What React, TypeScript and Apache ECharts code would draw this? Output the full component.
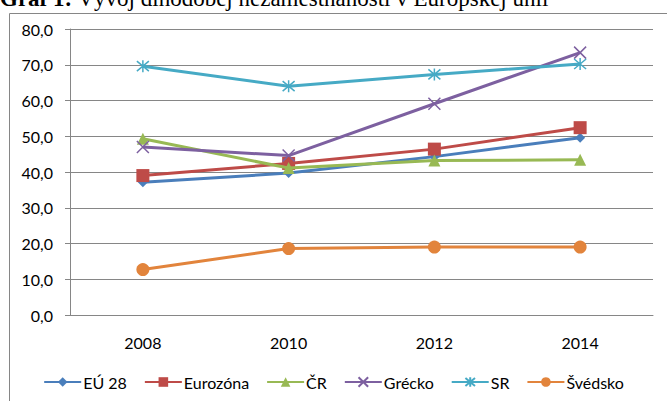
import React, { useEffect, useRef } from "react";
import * as echarts from "echarts";

const categories = ["2008", "2010", "2012", "2014"];
const seriesNames = ["EÚ 28", "Eurozóna", "ČR", "Grécko", "SR", "Švédsko"];
const eu28 = [37.1, 39.7, 44.3, 49.6];
const eurozona = [39.0, 42.4, 46.4, 52.4];
const cr = [49.3, 41.1, 43.2, 43.4];
const grecko = [47.0, 44.6, 59.1, 73.4];
const sr = [69.6, 64.0, 67.3, 70.2];
const svedsko = [12.7, 18.6, 19.0, 19.0];
const yTicks = { min: 0, max: 80, interval: 10 };

const colors = ["#4A7EBB", "#BE4B48", "#98B954", "#7D60A0", "#46AAC5", "#E2843C"];

const FONT = "Lato, 'Liberation Sans', sans-serif";

export default function App() {
  const ref = useRef<HTMLDivElement>(null);
  useEffect(() => {
    if (!ref.current) return;
    const chart = echarts.init(ref.current, undefined, { renderer: "svg" });
    const data = [eu28, eurozona, cr, grecko, sr, svedsko];
    const symbols = [
      "diamond",
      "rect",
      "triangle",
      "path://M0,0 L10,10 M10,0 L0,10",
      "path://M0,0 L10,10 M10,0 L0,10 M5,-1 L5,11",
      "circle",
    ];
    const sizes = [10, 13, 12, 12, 12, 13];
    const stroked = [false, false, false, true, true, false];
    chart.setOption({
      animation: false,
      textStyle: { fontFamily: FONT },
      grid: { left: 70, right: 14, top: 29, bottom: 86 },
      legend: {
        top: 369,
        left: "center",
        itemWidth: 37,
        itemHeight: 12,
        itemGap: 17,
        textStyle: { fontSize: 16, color: "#000", fontFamily: FONT, padding: [0, 0, 0, -3] },
        data: seriesNames,
      },
      xAxis: {
        type: "category",
        data: categories,
        boundaryGap: true,
        axisLine: { lineStyle: { color: "#868686" } },
        axisTick: { length: 5, lineStyle: { color: "#868686" } },
        axisLabel: { fontSize: 16, color: "#000", margin: 19, fontFamily: FONT },
      },
      yAxis: {
        type: "value",
        min: yTicks.min,
        max: yTicks.max,
        interval: yTicks.interval,
        axisLine: { show: true, lineStyle: { color: "#868686" } },
        axisTick: { show: true, length: 5, lineStyle: { color: "#868686" } },
        splitLine: { lineStyle: { color: "#868686" } },
        axisLabel: {
          fontSize: 16,
          color: "#000",
          margin: 17,
          fontFamily: FONT,
          formatter: (v: number) => v.toFixed(1).replace(".", ","),
        },
      },
      series: seriesNames.map((name, i) => ({
        name,
        type: "line",
        data: data[i],
        symbol: symbols[i],
        symbolSize: sizes[i],
        showAllSymbol: true,
        lineStyle: { color: colors[i], width: 3 },
        itemStyle: stroked[i]
          ? { color: "rgba(0,0,0,0)", borderColor: colors[i], borderWidth: 1.5 }
          : { color: colors[i], borderColor: colors[i], borderWidth: 0 },
        emphasis: { disabled: true },
        z: 2 + i,
      })),
      graphic: [
        {
          type: "line",
          shape: { x1: 9.5, y1: 13.5, x2: 667, y2: 13.5 },
          style: { stroke: "#868686", lineWidth: 1 },
        },
        {
          type: "line",
          shape: { x1: 9.5, y1: 13.5, x2: 9.5, y2: 401 },
          style: { stroke: "#868686", lineWidth: 1 },
        },
        {
          type: "text",
          x: 0,
          y: 10,
          style: {
            text: "{b|Graf 1:} Vývoj dlhodobej nezamestnanosti v Európskej únii",
            verticalAlign: "bottom",
            font: "23px 'Liberation Serif', 'Times New Roman', serif",
            fill: "#000",
            rich: {
              b: { fontWeight: "bold", fontSize: 23, fontFamily: "'Liberation Serif', serif" },
            },
          },
        },
      ],
    });
    return () => chart.dispose();
  }, []);
  return (
    <div
      ref={ref}
      style={{ position: "fixed", left: 0, top: 0, width: 667, height: 401, background: "#fff" }}
    />
  );
}
